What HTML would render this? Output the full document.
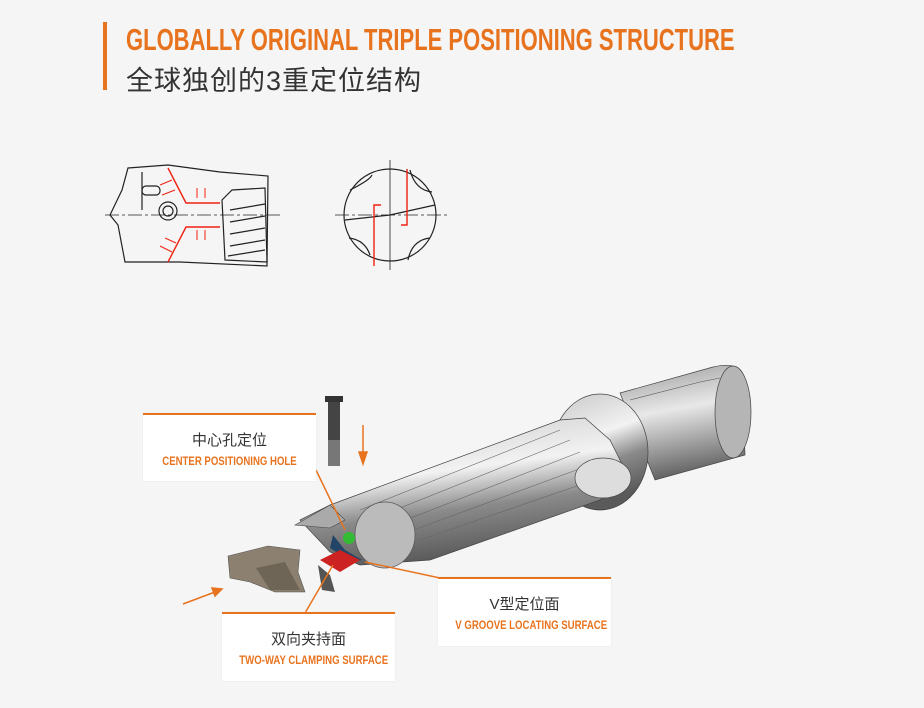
<!DOCTYPE html>
<html><head><meta charset="utf-8"><style>
body{margin:0;width:924px;height:708px;background:#f5f5f5;position:relative;overflow:hidden;font-family:"Liberation Sans","Noto Sans CJK SC",sans-serif}
.bar{position:absolute;left:103px;top:22px;width:4px;height:68px;background:#e8731e}
.t1{position:absolute;left:126px;top:22px;font-size:31px;font-weight:bold;color:#e8731e;white-space:nowrap;transform:scaleX(0.71);transform-origin:left top}
.t2{position:absolute;left:126px;top:59px;font-size:27px;color:#333;white-space:nowrap;letter-spacing:1px}
.box{position:absolute;background:#fff;border-top:2px solid #e8731e;text-align:center;box-shadow:0 0 1px #ddd}
.box .c{font-size:15px;color:#333;margin-top:14px}
.box .e{font-size:12px;font-weight:bold;color:#e8731e;margin-top:4px;white-space:nowrap;transform:scaleX(0.8);}
</style></head><body>
<div class="bar"></div>
<div class="t1">GLOBALLY ORIGINAL TRIPLE POSITIONING STRUCTURE</div>
<div class="t2">全球独创的3重定位结构</div>
<svg width="924" height="708" style="position:absolute;left:0;top:0">
<defs>
<linearGradient id="g1" x1="0" y1="0" x2="0.3" y2="1"><stop offset="0" stop-color="#c8c8c8"/><stop offset="0.45" stop-color="#f2f2f2"/><stop offset="0.7" stop-color="#8a8a8a"/><stop offset="1" stop-color="#5a5a5a"/></linearGradient>
<linearGradient id="g2" x1="0" y1="0" x2="0.2" y2="1"><stop offset="0" stop-color="#999"/><stop offset="0.45" stop-color="#e8e8e8"/><stop offset="1" stop-color="#666"/></linearGradient>
</defs>
<!-- technical drawing 1 -->
<g fill="none" stroke="#222" stroke-width="1.2">
<line x1="105" y1="215" x2="282" y2="215" stroke-dasharray="14 3 3 3" stroke-width="0.8"/>
<path d="M128 168 L168 165 L220 172 L268 176 L267 266 L180 262 L125 262 L118 225 L110 215 L122 190 Z"/>
<path d="M222 200 L232 190 L265 188 L267 262 L225 260 Z"/>
<path d="M230 210 L265 204 M230 222 L265 216 M230 234 L265 228 M230 246 L265 240 M228 256 L265 250"/>
<circle cx="168" cy="211" r="9"/><circle cx="168" cy="211" r="5"/>
<rect x="142" y="186" width="18" height="9" rx="4"/>
<line x1="142" y1="172" x2="142" y2="210"/>
</g>
<g fill="none" stroke="#e21" stroke-width="1.4">
<path d="M168 168 L186 203 L220 203 M168 262 L186 227 L220 227"/>
</g>
<g stroke="#e21" stroke-width="1" fill="#e21">
<path d="M160 185 L172 180 M162 195 L175 190 M165 238 L176 243 M160 246 L172 252 M197 188 L197 198 M205 188 L205 198 M197 240 L197 230 M205 240 L205 230"/>
</g>
<g fill="none" stroke="#222" stroke-width="1.2">
<line x1="335" y1="215" x2="447" y2="215" stroke-dasharray="14 3 3 3" stroke-width="0.8"/>
<line x1="390" y1="160" x2="390" y2="270" stroke-width="0.8"/>
<circle cx="390" cy="215" r="46"/>
<path d="M350 190 Q370 180 372 175 M349 238 Q365 240 370 255 M408 260 Q412 240 430 238 M410 170 Q415 190 432 192 M345 220 L390 215 L435 205"/>
</g>
<path d="M374 266 L374 205 L381 205 M407 169 L407 225 L401 225" fill="none" stroke="#e21" stroke-width="1.4"/>
<!-- drill shank -->
<path d="M620 393 L713 367 Q735 362 742 372 L745 455 L655 480 Z" fill="url(#g2)" stroke="#444" stroke-width="0.7"/>
<ellipse cx="733" cy="412" rx="18" ry="46" fill="#b5b5b5" stroke="#444" stroke-width="0.7"/>
<path d="M630 400 L700 382 L720 378" stroke="#555" stroke-width="0.6" fill="none"/>
<ellipse cx="600" cy="452" rx="48" ry="58" fill="url(#g1)" stroke="#444" stroke-width="0.7"/>
<!-- body -->
<path d="M300 520 L330 505 L560 420 L585 418 L610 440 L630 480 L600 500 L430 560 L360 565 L330 552 Z" fill="url(#g1)" stroke="#444" stroke-width="0.7"/>
<path d="M360 510 L560 430 M370 520 L570 440 M380 530 L580 452 M400 535 L590 465 M420 540 L600 478" stroke="#666" stroke-width="0.6" fill="none"/>
<ellipse cx="603" cy="478" rx="28" ry="20" fill="#ddd" stroke="#444" stroke-width="0.7"/>
<ellipse cx="385" cy="535" rx="30" ry="33" fill="#bbb" stroke="#555" stroke-width="0.7"/>
<path d="M295 525 L330 505 L345 520 L330 528 Z" fill="#aaa" stroke="#444" stroke-width="0.6"/>
<circle cx="349" cy="538" r="6" fill="#3b3"/>
<path d="M333 535 L345 550 L362 560 L352 562 L330 548 Z" fill="#246"/>
<path d="M320 560 L340 550 L360 560 L340 572 Z" fill="#c22"/>
<path d="M318 565 L330 575 L335 592 L322 590 Z" fill="#555"/>
<!-- screw -->
<rect x="328" y="398" width="12" height="68" fill="#444"/>
<rect x="325" y="396" width="18" height="6" fill="#333"/>
<rect x="328" y="440" width="12" height="26" fill="#777"/>
<!-- insert -->
<path d="M228 556 L268 546 L300 550 L298 572 L305 592 L275 592 L250 582 L230 578 Z" fill="#8c8070" stroke="#555" stroke-width="0.6"/>
<path d="M256 568 L285 562 L300 590 L270 590 Z" fill="#6f6556"/>
<!-- arrows -->
<g stroke="#e8731e" stroke-width="1.5" fill="#e8731e">
<line x1="363" y1="425" x2="363" y2="455"/><path d="M359 452 L367 452 L363 464 Z"/>
<line x1="183" y1="604" x2="215" y2="592"/><path d="M212 588 L222 589 L215 596 Z"/>
<polyline points="316,470 345,530" fill="none"/>
<polyline points="305,613 333,565" fill="none"/>
<polyline points="365,562 440,578 611,578" fill="none"/>
</g>
</svg>
<div class="box" style="left:143px;top:413px;width:173px;height:66px"><div class="c">中心孔定位</div><div class="e">CENTER POSITIONING HOLE</div></div>
<div class="box" style="left:222px;top:612px;width:173px;height:67px"><div class="c">双向夹持面</div><div class="e">TWO-WAY CLAMPING SURFACE</div></div>
<div class="box" style="left:438px;top:577px;width:173px;height:67px"><div class="c">V型定位面</div><div class="e">V GROOVE LOCATING SURFACE</div></div>
</body></html>
